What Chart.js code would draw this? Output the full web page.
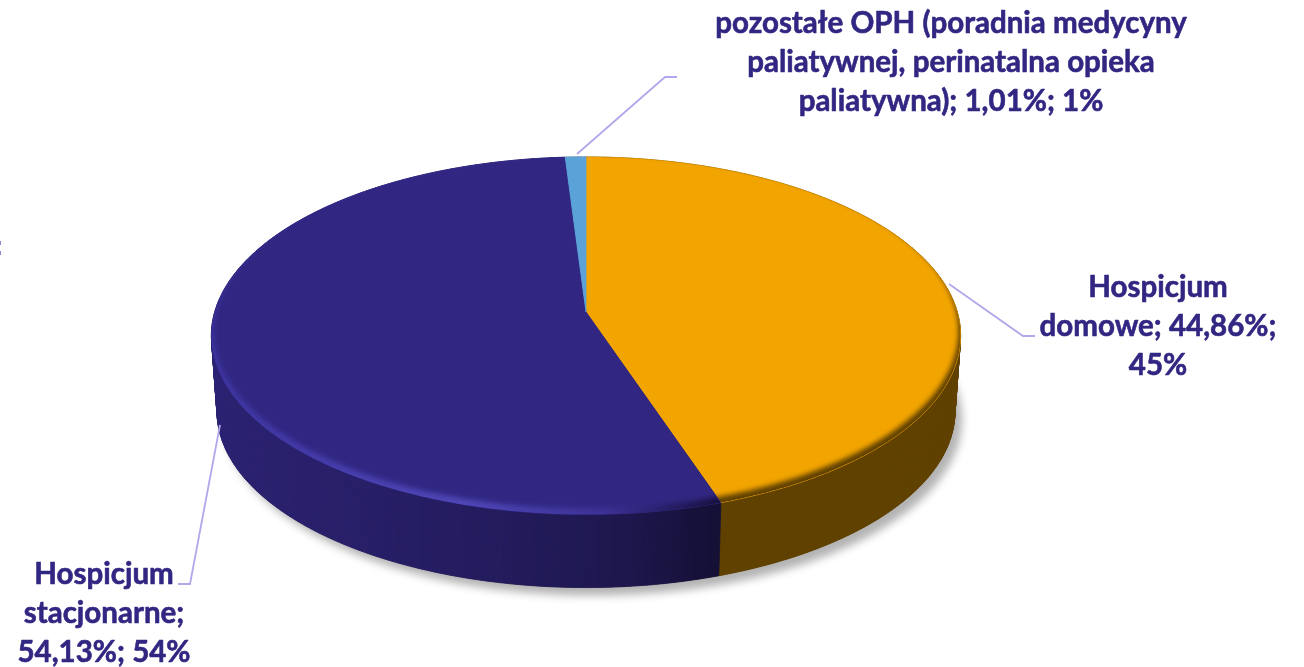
<!DOCTYPE html>
<html><head><meta charset="utf-8">
<style>html,body{margin:0;padding:0;background:#fff}#wrap{width:1304px;height:667px}</style>
<script src="https://cdn.jsdelivr.net/npm/chart.js@4"></script></head>
<body><div id="wrap"><canvas id="c" width="1304" height="667"></canvas></div>
<script>
const categories = ['Hospicjum domowe', 'Hospicjum stacjonarne', 'pozostałe OPH (poradnia medycyny paliatywnej, perinatalna opieka paliatywna)'];
const values = [44.86, 54.13, 1.01];
const sliceColors = ['#F2A400', '#312782', '#5AA2D8'];
const labelLines = [
  ['Hospicjum', 'domowe; 44,86%;', '45%'],
  ['Hospicjum', 'stacjonarne;', '54,13%; 54%'],
  ['pozostałe OPH (poradnia medycyny', 'paliatywnej, perinatalna opieka', 'paliatywna); 1,01%; 1%']
];
const labelCenters = [[1158, 297], [104, 584], [951, 33]];
const leaders = [
  [[949, 284], [1023, 336], [1035, 336]],
  [[220, 425], [190, 584], [178, 584]],
  [[577, 154], [665, 77], [677, 77]]
];
const K = 0.133, AX = 1.19, BY = 0.563, DEPTH = 76, LOWER = 0.985;

function project(arc, th, shiftY, scale) {
  const u = Math.cos(th), v = Math.sin(th), w = 1 - K * v;
  const r = arc.outerRadius * (scale || 1);
  return [arc.x + AX * r * u / w, arc.y + (shiftY || 0) + BY * r * v / w];
}
function tracePie(ctx, arc) {
  ctx.beginPath();
  ctx.moveTo(arc.x, arc.y);
  const n = Math.max(4, Math.ceil((arc.endAngle - arc.startAngle) * 90));
  for (let i = 0; i <= n; i++) {
    const p = project(arc, arc.startAngle + (arc.endAngle - arc.startAngle) * i / n);
    ctx.lineTo(p[0], p[1]);
  }
  ctx.closePath();
}
function traceDisc(ctx, arc, shiftY, scale) {
  ctx.beginPath();
  for (let i = 0; i < 360; i++) {
    const p = project(arc, i * Math.PI / 180, shiftY, scale);
    if (i) ctx.lineTo(p[0], p[1]); else ctx.moveTo(p[0], p[1]);
  }
  ctx.closePath();
}
function rimFill(ctx, base) {
  if (base === sliceColors[0]) return '#604100';
  if (base === sliceColors[1]) {
    const g = ctx.createLinearGradient(212, 0, 718, 0);
    g.addColorStop(0, '#3E34A0');
    g.addColorStop(0.5, '#5047B8');
    g.addColorStop(0.78, '#3C3296');
    g.addColorStop(0.92, '#231C60');
    g.addColorStop(1, '#17113F');
    return g;
  }
  return base;
}
// Top face of each slice: perspective-projected sector with a soft bevel at the rim.
Chart.ArcElement.prototype.draw = function (ctx) {
  const base = this.options.backgroundColor;
  ctx.save();
  tracePie(ctx, this);
  ctx.fillStyle = base; ctx.strokeStyle = base; ctx.lineWidth = 0.7;
  ctx.fill(); ctx.stroke();
  tracePie(ctx, this); ctx.clip();
  tracePie(ctx, this);
  ctx.fillStyle = rimFill(ctx, base); ctx.fill();
  ctx.filter = 'blur(2.5px)';
  traceDisc(ctx, this, -5, 0.994);
  ctx.fillStyle = base; ctx.fill();
  ctx.restore();
};
function shade(i, u) {
  const c = [[242,164,0],[49,39,130],[90,162,216]][i];
  let f = 0.4;
  if (i === 1) {
    const pts = [[-1,.9],[-.6,.82],[-.2,.72],[.1,.6],[.3,.42],[1,.42]];
    for (let k = 0; k < pts.length - 1; k++) {
      if (u >= pts[k][0] && u <= pts[k+1][0]) {
        f = pts[k][1] + (pts[k+1][1]-pts[k][1]) * (u-pts[k][0]) / (pts[k+1][0]-pts[k][0]);
      }
    }
  }
  return `rgb(${c[0]*f|0},${c[1]*f|0},${c[2]*f|0})`;
}
const walls = {
  id: 'walls',
  beforeDatasetsDraw(chart) {
    const ctx = chart.ctx, arcs = chart.getDatasetMeta(0).data;
    ctx.save();
    const a0 = arcs[0];
    ctx.shadowColor = 'rgba(0,0,0,0.3)'; ctx.shadowBlur = 9;
    ctx.shadowOffsetX = 7; ctx.shadowOffsetY = 8;
    traceDisc(ctx, a0, DEPTH, LOWER);
    ctx.fillStyle = '#604100'; ctx.fill();
    ctx.shadowColor = 'transparent';
    arcs.forEach((arc, i) => {
      const n = Math.ceil((arc.endAngle - arc.startAngle) * 90);
      for (let s = 0; s < n; s++) {
        const t0 = arc.startAngle + (arc.endAngle - arc.startAngle) * s / n;
        const t1 = arc.startAngle + (arc.endAngle - arc.startAngle) * (s + 1) / n;
        const p = [project(arc, t0), project(arc, t1), project(arc, t1, DEPTH, LOWER), project(arc, t0, DEPTH, LOWER)];
        ctx.beginPath();
        ctx.moveTo(p[0][0], p[0][1]);
        for (let q = 1; q < 4; q++) ctx.lineTo(p[q][0], p[q][1]);
        ctx.closePath();
        const col = shade(i, Math.cos((t0 + t1) / 2));
        ctx.fillStyle = col; ctx.strokeStyle = col; ctx.lineWidth = 0.8;
        ctx.fill(); ctx.stroke();
      }
    });
    ctx.restore();
  }
};
const labelsPlugin = {
  id: 'labelsPlugin',
  afterDatasetsDraw(chart) {
    const ctx = chart.ctx;
    ctx.save();
    ctx.strokeStyle = '#B0A8EA'; ctx.lineWidth = 1.8;
    leaders.forEach(l => {
      ctx.beginPath();
      l.forEach((p, i) => i ? ctx.lineTo(p[0], p[1]) : ctx.moveTo(p[0], p[1]));
      ctx.stroke();
    });
    ctx.fillStyle = '#8F88CC';
    ctx.fillRect(0, 241, 1, 4);
    ctx.fillRect(0, 251, 1, 4);
    ctx.fillStyle = '#312782'; ctx.strokeStyle = '#312782'; ctx.lineWidth = 0.6;
    ctx.font = 'bold 29.5px Lato';
    ctx.textAlign = 'center'; ctx.textBaseline = 'alphabetic'; ctx.lineJoin = 'round';
    labelLines.forEach((lines, i) => lines.forEach((t, j) => {
      const x = labelCenters[i][0], y = labelCenters[i][1] + j * 39;
      ctx.fillText(t, x, y);
      ctx.strokeText(t, x, y);
    }));
    ctx.restore();
  }
};
new Chart(document.getElementById('c'), {
  type: 'pie',
  data: { labels: categories, datasets: [{ data: values, backgroundColor: sliceColors, borderWidth: 0 }] },
  options: {
    responsive: false, animation: false,
    layout: { padding: { left: 0, right: 132, top: 0, bottom: 43 } },
    plugins: { legend: { display: false }, tooltip: { enabled: false } }
  },
  plugins: [walls, labelsPlugin]
});
</script></body></html>
